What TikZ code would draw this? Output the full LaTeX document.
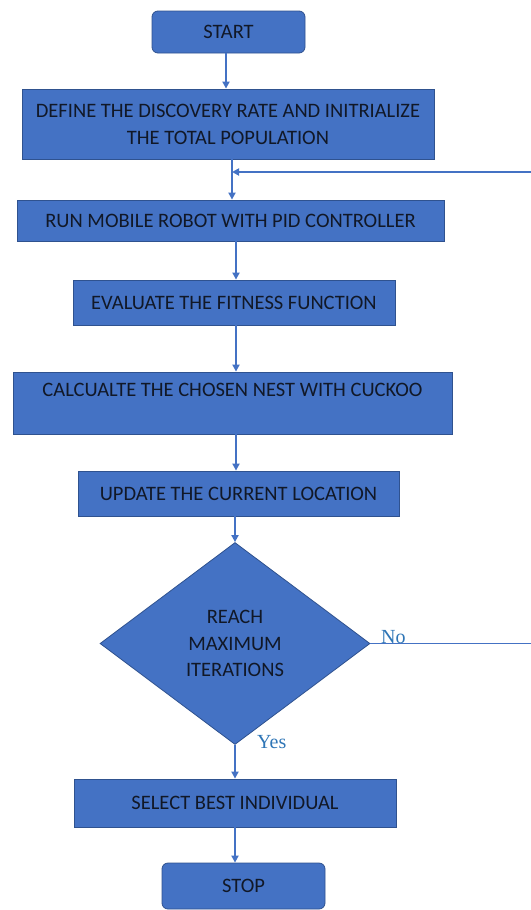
\documentclass[tikz,border=0pt]{standalone}
\usepackage{fontspec}
\setmainfont{Carlito}
\newfontfamily\serifyn{Liberation Serif}
\usetikzlibrary{shapes.geometric,arrows.meta,calc}
\definecolor{boxblue}{HTML}{4472C4}
\definecolor{boxedge}{HTML}{2F528F}
\definecolor{lineblue}{HTML}{4472C4}
\definecolor{lblblue}{HTML}{2E75B6}
\definecolor{txtdark}{HTML}{111827}
\begin{document}
\begin{tikzpicture}[x=1pt,y=-1pt,
  procbox/.style={draw=boxedge,line width=0.8pt,fill=boxblue,inner sep=0pt,align=center,
    font=\fontsize{20.5}{27}\selectfont,text=txtdark},
  termbox/.style={procbox,rounded corners=6pt},
  decbox/.style={draw=boxedge,line width=0.8pt,fill=boxblue,shape=diamond,inner sep=0pt,
    align=center,font=\fontsize{20.5}{26.5}\selectfont,text=txtdark},
  arr/.style={draw=lineblue,line width=1.8pt,-{Triangle[width=7pt,length=7pt]}},
  plain/.style={draw=lineblue,line width=1.8pt},
  yn/.style={font=\serifyn\fontsize{20}{22}\selectfont,text=lblblue,inner sep=0pt}]
\useasboundingbox (0,0) rectangle (530,910);
\node[termbox,minimum width=153pt,minimum height=42pt] (start) at (228.5,32) {START};
\node[procbox,minimum width=412pt,minimum height=70pt] (define) at (228,124)
  {DEFINE THE DISCOVERY RATE AND INITRIALIZE\\THE TOTAL POPULATION};
\node[procbox,minimum width=427pt,minimum height=41pt] (run) at (230.5,220.5)
  {RUN MOBILE ROBOT WITH PID CONTROLLER};
\node[procbox,minimum width=322pt,minimum height=45pt] (eval) at (234,302.5)
  {EVALUATE THE FITNESS FUNCTION};
\node[procbox,minimum width=439pt,minimum height=62pt] (calc) at (232.5,403)
  {CALCUALTE THE CHOSEN NEST WITH CUCKOO\\\mbox{}};
\node[procbox,minimum width=321pt,minimum height=45pt] (update) at (238.5,493.5)
  {UPDATE THE CURRENT LOCATION};
\node[decbox,minimum width=270pt,minimum height=202pt,aspect=1.34] (dec) at (235,643.5)
  {REACH\\MAXIMUM\\ITERATIONS};
\node[procbox,minimum width=322pt,minimum height=48pt] (select) at (235,803)
  {SELECT BEST INDIVIDUAL};
\node[termbox,minimum width=163pt,minimum height=46pt] (stop) at (243.5,886)
  {STOP};
\node[yn,anchor=west] (no) at (381,637) {No};
\node[yn,anchor=west] (yes) at (257,742) {Yes};
\coordinate (col) at (236,0);
\coordinate (join) at (232,172);
\coordinate (fbtop) at (531.5,172);
\coordinate (fbbot) at (531.5,643.5);
\draw[arr] (start.south -| 226,0) -- (define.north -| 226,0);
\draw[arr] (define.south -| join) -- (run.north -| join);
\draw[arr] (run.south -| col) -- (eval.north -| col);
\draw[arr] (eval.south -| col) -- (calc.north -| col);
\draw[arr] (calc.south -| col) -- (update.north -| col);
\draw[arr] (update.south -| dec.north) -- (dec.north);
\draw[arr] (dec.south) -- (select.north -| dec.south);
\draw[arr] (select.south -| dec.south) -- (stop.north -| dec.south);
\draw[plain] (dec.east) -- (fbbot) -- (fbtop);
\draw[arr] (fbtop) -- (join);
\end{tikzpicture}
\end{document}
